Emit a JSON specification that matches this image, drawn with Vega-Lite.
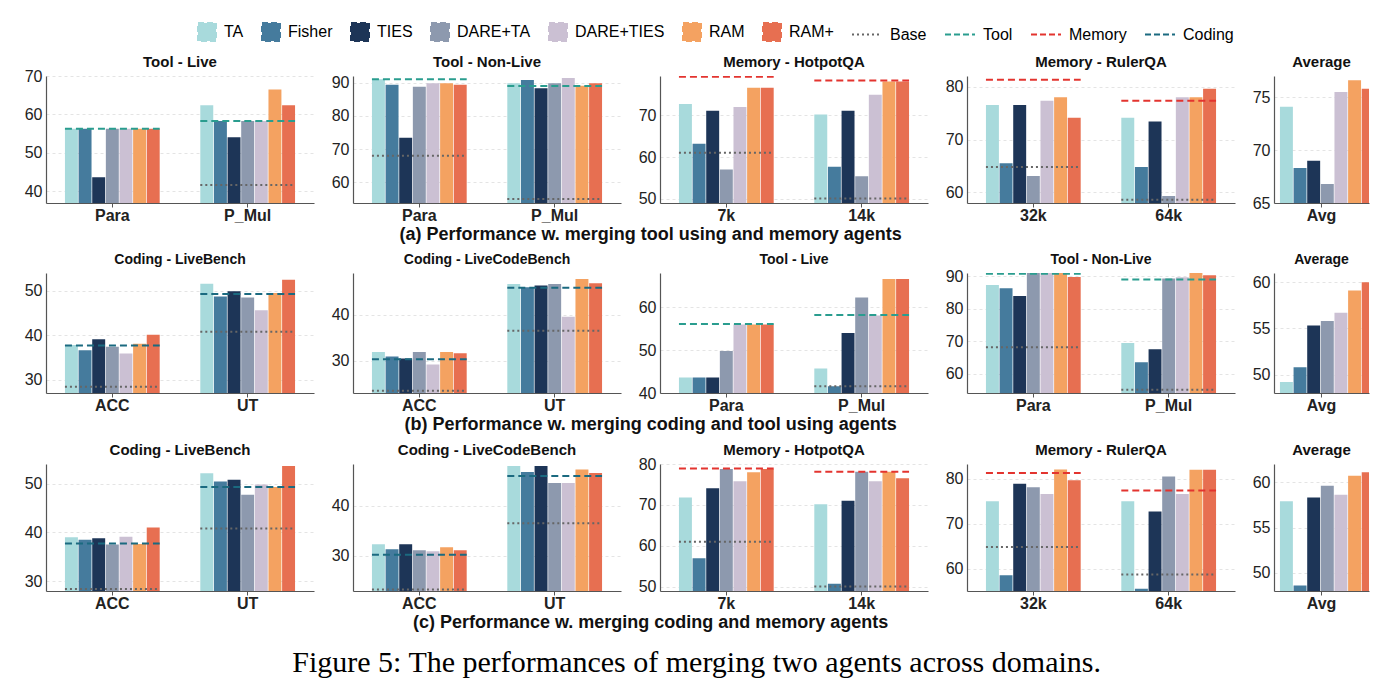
{
"$schema":"https://vega.github.io/schema/vega-lite/v6.json",
"padding":{"left":24,"top":22,"right":5,"bottom":5},
"background":"white",
"datasets":{
"bars":[
{"p":"a1","c":"Para","m":"TA","v":56.3},{"p":"a1","c":"Para","m":"Fisher","v":56.3},{"p":"a1","c":"Para","m":"TIES","v":43.7},{"p":"a1","c":"Para","m":"DARE+TA","v":56.3},{"p":"a1","c":"Para","m":"DARE+TIES","v":56.3},{"p":"a1","c":"Para","m":"RAM","v":56.3},{"p":"a1","c":"Para","m":"RAM+","v":56.3},
{"p":"a1","c":"P_Mul","m":"TA","v":62.4},{"p":"a1","c":"P_Mul","m":"Fisher","v":58.3},{"p":"a1","c":"P_Mul","m":"TIES","v":54.1},{"p":"a1","c":"P_Mul","m":"DARE+TA","v":58.3},{"p":"a1","c":"P_Mul","m":"DARE+TIES","v":58.3},{"p":"a1","c":"P_Mul","m":"RAM","v":66.5},{"p":"a1","c":"P_Mul","m":"RAM+","v":62.4},
{"p":"a2","c":"Para","m":"TA","v":91.0},{"p":"a2","c":"Para","m":"Fisher","v":89.4},{"p":"a2","c":"Para","m":"TIES","v":73.4},{"p":"a2","c":"Para","m":"DARE+TA","v":88.8},{"p":"a2","c":"Para","m":"DARE+TIES","v":89.8},{"p":"a2","c":"Para","m":"RAM","v":89.8},{"p":"a2","c":"Para","m":"RAM+","v":89.4},
{"p":"a2","c":"P_Mul","m":"TA","v":89.8},{"p":"a2","c":"P_Mul","m":"Fisher","v":90.8},{"p":"a2","c":"P_Mul","m":"TIES","v":88.3},{"p":"a2","c":"P_Mul","m":"DARE+TA","v":89.8},{"p":"a2","c":"P_Mul","m":"DARE+TIES","v":91.4},{"p":"a2","c":"P_Mul","m":"RAM","v":89.1},{"p":"a2","c":"P_Mul","m":"RAM+","v":89.8},
{"p":"a3","c":"7k","m":"TA","v":72.7},{"p":"a3","c":"7k","m":"Fisher","v":63.2},{"p":"a3","c":"7k","m":"TIES","v":71.1},{"p":"a3","c":"7k","m":"DARE+TA","v":57.0},{"p":"a3","c":"7k","m":"DARE+TIES","v":72.0},{"p":"a3","c":"7k","m":"RAM","v":76.6},{"p":"a3","c":"7k","m":"RAM+","v":76.6},
{"p":"a3","c":"14k","m":"TA","v":70.2},{"p":"a3","c":"14k","m":"Fisher","v":57.7},{"p":"a3","c":"14k","m":"TIES","v":71.1},{"p":"a3","c":"14k","m":"DARE+TA","v":55.4},{"p":"a3","c":"14k","m":"DARE+TIES","v":74.9},{"p":"a3","c":"14k","m":"RAM","v":78.1},{"p":"a3","c":"14k","m":"RAM+","v":78.1},
{"p":"a4","c":"32k","m":"TA","v":76.5},{"p":"a4","c":"32k","m":"Fisher","v":65.5},{"p":"a4","c":"32k","m":"TIES","v":76.5},{"p":"a4","c":"32k","m":"DARE+TA","v":63.1},{"p":"a4","c":"32k","m":"DARE+TIES","v":77.3},{"p":"a4","c":"32k","m":"RAM","v":78.0},{"p":"a4","c":"32k","m":"RAM+","v":74.1},
{"p":"a4","c":"64k","m":"TA","v":74.1},{"p":"a4","c":"64k","m":"Fisher","v":64.8},{"p":"a4","c":"64k","m":"TIES","v":73.4},{"p":"a4","c":"64k","m":"DARE+TA","v":59.3},{"p":"a4","c":"64k","m":"DARE+TIES","v":78.0},{"p":"a4","c":"64k","m":"RAM","v":78.0},{"p":"a4","c":"64k","m":"RAM+","v":79.6},
{"p":"a5","c":"Avg","m":"TA","v":74.1},{"p":"a5","c":"Avg","m":"Fisher","v":68.3},{"p":"a5","c":"Avg","m":"TIES","v":69.0},{"p":"a5","c":"Avg","m":"DARE+TA","v":66.8},{"p":"a5","c":"Avg","m":"DARE+TIES","v":75.5},{"p":"a5","c":"Avg","m":"RAM","v":76.6},{"p":"a5","c":"Avg","m":"RAM+","v":75.8},
{"p":"b1","c":"ACC","m":"TA","v":37.8},{"p":"b1","c":"ACC","m":"Fisher","v":36.6},{"p":"b1","c":"ACC","m":"TIES","v":39.1},{"p":"b1","c":"ACC","m":"DARE+TA","v":37.4},{"p":"b1","c":"ACC","m":"DARE+TIES","v":35.9},{"p":"b1","c":"ACC","m":"RAM","v":38.1},{"p":"b1","c":"ACC","m":"RAM+","v":40.1},
{"p":"b1","c":"UT","m":"TA","v":51.6},{"p":"b1","c":"UT","m":"Fisher","v":48.7},{"p":"b1","c":"UT","m":"TIES","v":49.9},{"p":"b1","c":"UT","m":"DARE+TA","v":48.5},{"p":"b1","c":"UT","m":"DARE+TIES","v":45.6},{"p":"b1","c":"UT","m":"RAM","v":49.5},{"p":"b1","c":"UT","m":"RAM+","v":52.5},
{"p":"b2","c":"ACC","m":"TA","v":31.9},{"p":"b2","c":"ACC","m":"Fisher","v":30.9},{"p":"b2","c":"ACC","m":"TIES","v":30.5},{"p":"b2","c":"ACC","m":"DARE+TA","v":31.9},{"p":"b2","c":"ACC","m":"DARE+TIES","v":29.2},{"p":"b2","c":"ACC","m":"RAM","v":31.9},{"p":"b2","c":"ACC","m":"RAM+","v":31.6},
{"p":"b2","c":"UT","m":"TA","v":46.6},{"p":"b2","c":"UT","m":"Fisher","v":45.9},{"p":"b2","c":"UT","m":"TIES","v":46.3},{"p":"b2","c":"UT","m":"DARE+TA","v":46.6},{"p":"b2","c":"UT","m":"DARE+TIES","v":39.5},{"p":"b2","c":"UT","m":"RAM","v":47.7},{"p":"b2","c":"UT","m":"RAM+","v":46.8},
{"p":"b3","c":"Para","m":"TA","v":43.6},{"p":"b3","c":"Para","m":"Fisher","v":43.6},{"p":"b3","c":"Para","m":"TIES","v":43.6},{"p":"b3","c":"Para","m":"DARE+TA","v":49.8},{"p":"b3","c":"Para","m":"DARE+TIES","v":56.0},{"p":"b3","c":"Para","m":"RAM","v":56.0},{"p":"b3","c":"Para","m":"RAM+","v":56.0},
{"p":"b3","c":"P_Mul","m":"TA","v":45.7},{"p":"b3","c":"P_Mul","m":"Fisher","v":41.6},{"p":"b3","c":"P_Mul","m":"TIES","v":54.0},{"p":"b3","c":"P_Mul","m":"DARE+TA","v":62.3},{"p":"b3","c":"P_Mul","m":"DARE+TIES","v":58.1},{"p":"b3","c":"P_Mul","m":"RAM","v":66.6},{"p":"b3","c":"P_Mul","m":"RAM+","v":66.6},
{"p":"b4","c":"Para","m":"TA","v":87.3},{"p":"b4","c":"Para","m":"Fisher","v":86.3},{"p":"b4","c":"Para","m":"TIES","v":83.9},{"p":"b4","c":"Para","m":"DARE+TA","v":91.5},{"p":"b4","c":"Para","m":"DARE+TIES","v":91.5},{"p":"b4","c":"Para","m":"RAM","v":91.5},{"p":"b4","c":"Para","m":"RAM+","v":89.8},
{"p":"b4","c":"P_Mul","m":"TA","v":69.4},{"p":"b4","c":"P_Mul","m":"Fisher","v":63.5},{"p":"b4","c":"P_Mul","m":"TIES","v":67.5},{"p":"b4","c":"P_Mul","m":"DARE+TA","v":89.3},{"p":"b4","c":"P_Mul","m":"DARE+TIES","v":89.7},{"p":"b4","c":"P_Mul","m":"RAM","v":91.5},{"p":"b4","c":"P_Mul","m":"RAM+","v":90.3},
{"p":"b5","c":"Avg","m":"TA","v":49.2},{"p":"b5","c":"Avg","m":"Fisher","v":50.8},{"p":"b5","c":"Avg","m":"TIES","v":55.3},{"p":"b5","c":"Avg","m":"DARE+TA","v":55.8},{"p":"b5","c":"Avg","m":"DARE+TIES","v":56.7},{"p":"b5","c":"Avg","m":"RAM","v":59.1},{"p":"b5","c":"Avg","m":"RAM+","v":60.0},
{"p":"c1","c":"ACC","m":"TA","v":39.0},{"p":"c1","c":"ACC","m":"Fisher","v":38.5},{"p":"c1","c":"ACC","m":"TIES","v":38.8},{"p":"c1","c":"ACC","m":"DARE+TA","v":37.5},{"p":"c1","c":"ACC","m":"DARE+TIES","v":39.1},{"p":"c1","c":"ACC","m":"RAM","v":37.6},{"p":"c1","c":"ACC","m":"RAM+","v":41.0},
{"p":"c1","c":"UT","m":"TA","v":52.1},{"p":"c1","c":"UT","m":"Fisher","v":50.4},{"p":"c1","c":"UT","m":"TIES","v":50.8},{"p":"c1","c":"UT","m":"DARE+TA","v":47.7},{"p":"c1","c":"UT","m":"DARE+TIES","v":49.8},{"p":"c1","c":"UT","m":"RAM","v":49.3},{"p":"c1","c":"UT","m":"RAM+","v":53.6},
{"p":"c2","c":"ACC","m":"TA","v":32.3},{"p":"c2","c":"ACC","m":"Fisher","v":31.3},{"p":"c2","c":"ACC","m":"TIES","v":32.3},{"p":"c2","c":"ACC","m":"DARE+TA","v":31.1},{"p":"c2","c":"ACC","m":"DARE+TIES","v":30.9},{"p":"c2","c":"ACC","m":"RAM","v":31.7},{"p":"c2","c":"ACC","m":"RAM+","v":31.1},
{"p":"c2","c":"UT","m":"TA","v":47.9},{"p":"c2","c":"UT","m":"Fisher","v":46.7},{"p":"c2","c":"UT","m":"TIES","v":47.9},{"p":"c2","c":"UT","m":"DARE+TA","v":44.5},{"p":"c2","c":"UT","m":"DARE+TIES","v":44.5},{"p":"c2","c":"UT","m":"RAM","v":47.2},{"p":"c2","c":"UT","m":"RAM+","v":46.5},
{"p":"c3","c":"7k","m":"TA","v":71.8},{"p":"c3","c":"7k","m":"Fisher","v":57.0},{"p":"c3","c":"7k","m":"TIES","v":74.1},{"p":"c3","c":"7k","m":"DARE+TA","v":78.8},{"p":"c3","c":"7k","m":"DARE+TIES","v":75.8},{"p":"c3","c":"7k","m":"RAM","v":78.0},{"p":"c3","c":"7k","m":"RAM+","v":78.8},
{"p":"c3","c":"14k","m":"TA","v":70.2},{"p":"c3","c":"14k","m":"Fisher","v":50.8},{"p":"c3","c":"14k","m":"TIES","v":71.0},{"p":"c3","c":"14k","m":"DARE+TA","v":78.1},{"p":"c3","c":"14k","m":"DARE+TIES","v":75.8},{"p":"c3","c":"14k","m":"RAM","v":78.1},{"p":"c3","c":"14k","m":"RAM+","v":76.5},
{"p":"c4","c":"32k","m":"TA","v":75.0},{"p":"c4","c":"32k","m":"Fisher","v":58.5},{"p":"c4","c":"32k","m":"TIES","v":78.9},{"p":"c4","c":"32k","m":"DARE+TA","v":78.1},{"p":"c4","c":"32k","m":"DARE+TIES","v":76.6},{"p":"c4","c":"32k","m":"RAM","v":82.1},{"p":"c4","c":"32k","m":"RAM+","v":79.7},
{"p":"c4","c":"64k","m":"TA","v":75.0},{"p":"c4","c":"64k","m":"Fisher","v":55.5},{"p":"c4","c":"64k","m":"TIES","v":72.7},{"p":"c4","c":"64k","m":"DARE+TA","v":80.5},{"p":"c4","c":"64k","m":"DARE+TIES","v":76.6},{"p":"c4","c":"64k","m":"RAM","v":82.0},{"p":"c4","c":"64k","m":"RAM+","v":82.0},
{"p":"c5","c":"Avg","m":"TA","v":57.9},{"p":"c5","c":"Avg","m":"Fisher","v":48.6},{"p":"c5","c":"Avg","m":"TIES","v":58.3},{"p":"c5","c":"Avg","m":"DARE+TA","v":59.6},{"p":"c5","c":"Avg","m":"DARE+TIES","v":58.6},{"p":"c5","c":"Avg","m":"RAM","v":60.7},{"p":"c5","c":"Avg","m":"RAM+","v":61.1}
],
"lines":[
{"p":"a1","c":"Para","l":"Tool","v":56.3},{"p":"a1","c":"P_Mul","l":"Tool","v":58.3},{"p":"a1","c":"P_Mul","l":"Base","v":41.7},
{"p":"a2","c":"Para","l":"Tool","v":91.0},{"p":"a2","c":"Para","l":"Base","v":68.0},{"p":"a2","c":"P_Mul","l":"Tool","v":89.0},{"p":"a2","c":"P_Mul","l":"Base","v":55.0},
{"p":"a3","c":"7k","l":"Memory","v":79.2},{"p":"a3","c":"7k","l":"Base","v":61.0},{"p":"a3","c":"14k","l":"Memory","v":78.3},{"p":"a3","c":"14k","l":"Base","v":50.1},
{"p":"a4","c":"32k","l":"Memory","v":81.3},{"p":"a4","c":"32k","l":"Base","v":64.8},{"p":"a4","c":"64k","l":"Memory","v":77.3},{"p":"a4","c":"64k","l":"Base","v":58.6},
{"p":"b1","c":"ACC","l":"Coding","v":37.7},{"p":"b1","c":"ACC","l":"Base","v":28.4},{"p":"b1","c":"UT","l":"Coding","v":49.3},{"p":"b1","c":"UT","l":"Base","v":40.8},
{"p":"b2","c":"ACC","l":"Coding","v":30.3},{"p":"b2","c":"ACC","l":"Base","v":23.5},{"p":"b2","c":"UT","l":"Coding","v":45.8},{"p":"b2","c":"UT","l":"Base","v":36.5},
{"p":"b3","c":"Para","l":"Tool","v":56.1},{"p":"b3","c":"P_Mul","l":"Tool","v":58.2},{"p":"b3","c":"P_Mul","l":"Base","v":41.6},
{"p":"b4","c":"Para","l":"Tool","v":90.8},{"p":"b4","c":"Para","l":"Base","v":68.1},{"p":"b4","c":"P_Mul","l":"Tool","v":89.0},{"p":"b4","c":"P_Mul","l":"Base","v":55.0},
{"p":"c1","c":"ACC","l":"Coding","v":37.7},{"p":"c1","c":"ACC","l":"Base","v":28.4},{"p":"c1","c":"UT","l":"Coding","v":49.3},{"p":"c1","c":"UT","l":"Base","v":40.8},
{"p":"c2","c":"ACC","l":"Coding","v":30.2},{"p":"c2","c":"ACC","l":"Base","v":23.3},{"p":"c2","c":"UT","l":"Coding","v":45.9},{"p":"c2","c":"UT","l":"Base","v":36.5},
{"p":"c3","c":"7k","l":"Memory","v":78.9},{"p":"c3","c":"7k","l":"Base","v":61.0},{"p":"c3","c":"14k","l":"Memory","v":78.1},{"p":"c3","c":"14k","l":"Base","v":50.1},
{"p":"c4","c":"32k","l":"Memory","v":81.3},{"p":"c4","c":"32k","l":"Base","v":64.8},{"p":"c4","c":"64k","l":"Memory","v":77.4},{"p":"c4","c":"64k","l":"Base","v":58.7}
]
},
"title":{"text":"Figure 5: The performances of merging two agents across domains.","orient":"bottom","anchor":"middle","font":"Liberation Serif","fontSize":30,"fontWeight":"normal","offset":16,"color":"#000"},
"resolve":{"scale":{"color":"shared"},"legend":{"color":"shared"}},
"spacing":9,
"vconcat":[
{"title":{"text":"(a) Performance w. merging tool using and memory agents","orient":"bottom","anchor":"middle","fontSize":18,"offset":3,"dx":-46},
"spacing":17,
"resolve":{"scale":{"color":"shared"},"legend":{"color":"shared"}},
"hconcat":[
{"width":268,"height":127,"title":{"text":"Tool - Live","offset":-2},"layer":[
{"data":{"name":"bars"},"transform":[{"filter":"datum.p=='a1'"}],"mark":{"type":"bar","clip":true},"encoding":{"x":{"field":"c","type":"nominal","sort":null,"title":null,"scale":{"paddingInner":0.3,"paddingOuter":0.14}},"xOffset":{"field":"m","type":"nominal","sort":["TA","Fisher","TIES","DARE+TA","DARE+TIES","RAM","RAM+"],"scale":{"paddingInner":0.05}},"y":{"field":"v","type":"quantitative","title":null,"scale":{"domain":[37,70],"zero":false,"nice":false},"axis":{"values":[40,50,60,70]}},"color":{"field":"m","type":"nominal","scale":{"domain":["TA","Fisher","TIES","DARE+TA","DARE+TIES","RAM","RAM+","Base","Tool","Memory","Coding"],"range":["#a8dadc","#457b9d","#1d3557","#8d99ae","#cbc0d3","#f4a261","#e76f51","#666666","#2a9d8f","#e3342f","#1b6a80"]},
"legend":{"title":null,"orient":"none","legendX":152,"legendY":-54,"direction":"horizontal","columns":11,"labelFontSize":16,"labelFont":"Liberation Sans","columnPadding":14,
"encode":{
"symbols":{"update":{
"shape":{"signal":"indexof(['Base','Tool','Memory','Coding'], datum.value) >= 0 ? 'stroke' : 'square'"},
"fill":{"signal":"indexof(['Base','Tool','Memory','Coding'], datum.value) >= 0 ? 'transparent' : scale('color', datum.value)"},
"stroke":{"signal":"indexof(['Base','Tool','Memory','Coding'], datum.value) >= 0 ? scale('color', datum.value) : 'transparent'"},
"strokeDash":{"signal":"datum.value == 'Base' ? [2,3] : [6,3]"},
"strokeWidth":{"value":2},
"opacity":{"value":1},
"x":{"signal":"indexof(['Base','Tool','Memory','Coding'], datum.value) >= 0 ? 15 : 9"},
"size":{"signal":"indexof(['Base','Tool','Memory','Coding'], datum.value) >= 0 ? 900 : 324"}}},
"labels":{"update":{
"x":{"signal":"indexof(['Base','Tool','Memory','Coding'], datum.value) >= 0 ? 38 : 26"}}}}}}}},
{"data":{"name":"lines"},"transform":[{"filter":"datum.p=='a1'"}],"mark":{"type":"rule","clip":true,"strokeWidth":2},"encoding":{"x":{"field":"c","type":"nominal","sort":null,"title":null,"bandPosition":0},"x2":{"field":"c","bandPosition":1},"y":{"field":"v","type":"quantitative","title":null},"color":{"field":"l","type":"nominal","scale":{"domain":["TA","Fisher","TIES","DARE+TA","DARE+TIES","RAM","RAM+","Base","Tool","Memory","Coding"],"range":["#a8dadc","#457b9d","#1d3557","#8d99ae","#cbc0d3","#f4a261","#e76f51","#666666","#2a9d8f","#e3342f","#1b6a80"]}},"strokeDash":{"field":"l","type":"nominal","scale":{"domain":["Base","Tool","Memory","Coding"],"range":[[2,3],[7,4],[7,4],[7,4]]},"legend":null}}}
]},
{"width":268,"height":127,"title":{"text":"Tool - Non-Live","offset":4.6},"layer":[
{"data":{"name":"bars"},"transform":[{"filter":"datum.p=='a2'"}],"mark":{"type":"bar","clip":true},"encoding":{"x":{"field":"c","type":"nominal","sort":null,"title":null,"scale":{"paddingInner":0.3,"paddingOuter":0.14}},"xOffset":{"field":"m","type":"nominal","sort":["TA","Fisher","TIES","DARE+TA","DARE+TIES","RAM","RAM+"],"scale":{"paddingInner":0.05}},"y":{"field":"v","type":"quantitative","title":null,"scale":{"domain":[53.8,92],"zero":false,"nice":false},"axis":{"values":[60,70,80,90]}},"color":{"field":"m","type":"nominal","scale":{"domain":["TA","Fisher","TIES","DARE+TA","DARE+TIES","RAM","RAM+","Base","Tool","Memory","Coding"],"range":["#a8dadc","#457b9d","#1d3557","#8d99ae","#cbc0d3","#f4a261","#e76f51","#666666","#2a9d8f","#e3342f","#1b6a80"]}}}},
{"data":{"name":"lines"},"transform":[{"filter":"datum.p=='a2'"}],"mark":{"type":"rule","clip":true,"strokeWidth":2},"encoding":{"x":{"field":"c","type":"nominal","sort":null,"title":null,"bandPosition":0},"x2":{"field":"c","bandPosition":1},"y":{"field":"v","type":"quantitative","title":null},"color":{"field":"l","type":"nominal","scale":{"domain":["TA","Fisher","TIES","DARE+TA","DARE+TIES","RAM","RAM+","Base","Tool","Memory","Coding"],"range":["#a8dadc","#457b9d","#1d3557","#8d99ae","#cbc0d3","#f4a261","#e76f51","#666666","#2a9d8f","#e3342f","#1b6a80"]}},"strokeDash":{"field":"l","type":"nominal","scale":{"domain":["Base","Tool","Memory","Coding"],"range":[[2,3],[7,4],[7,4],[7,4]]},"legend":null}}}
]},
{"width":268,"height":127,"title":"Memory - HotpotQA","layer":[
{"data":{"name":"bars"},"transform":[{"filter":"datum.p=='a3'"}],"mark":{"type":"bar","clip":true},"encoding":{"x":{"field":"c","type":"nominal","sort":null,"title":null,"scale":{"paddingInner":0.3,"paddingOuter":0.14}},"xOffset":{"field":"m","type":"nominal","sort":["TA","Fisher","TIES","DARE+TA","DARE+TIES","RAM","RAM+"],"scale":{"paddingInner":0.05}},"y":{"field":"v","type":"quantitative","title":null,"scale":{"domain":[49,79.4],"zero":false,"nice":false},"axis":{"values":[50,60,70]}},"color":{"field":"m","type":"nominal","scale":{"domain":["TA","Fisher","TIES","DARE+TA","DARE+TIES","RAM","RAM+","Base","Tool","Memory","Coding"],"range":["#a8dadc","#457b9d","#1d3557","#8d99ae","#cbc0d3","#f4a261","#e76f51","#666666","#2a9d8f","#e3342f","#1b6a80"]}}}},
{"data":{"name":"lines"},"transform":[{"filter":"datum.p=='a3'"}],"mark":{"type":"rule","clip":true,"strokeWidth":2},"encoding":{"x":{"field":"c","type":"nominal","sort":null,"title":null,"bandPosition":0},"x2":{"field":"c","bandPosition":1},"y":{"field":"v","type":"quantitative","title":null},"color":{"field":"l","type":"nominal","scale":{"domain":["TA","Fisher","TIES","DARE+TA","DARE+TIES","RAM","RAM+","Base","Tool","Memory","Coding"],"range":["#a8dadc","#457b9d","#1d3557","#8d99ae","#cbc0d3","#f4a261","#e76f51","#666666","#2a9d8f","#e3342f","#1b6a80"]}},"strokeDash":{"field":"l","type":"nominal","scale":{"domain":["Base","Tool","Memory","Coding"],"range":[[2,3],[7,4],[7,4],[7,4]]},"legend":null}}}
]},
{"width":268,"height":127,"title":"Memory - RulerQA","layer":[
{"data":{"name":"bars"},"transform":[{"filter":"datum.p=='a4'"}],"mark":{"type":"bar","clip":true},"encoding":{"x":{"field":"c","type":"nominal","sort":null,"title":null,"scale":{"paddingInner":0.3,"paddingOuter":0.14}},"xOffset":{"field":"m","type":"nominal","sort":["TA","Fisher","TIES","DARE+TA","DARE+TIES","RAM","RAM+"],"scale":{"paddingInner":0.05}},"y":{"field":"v","type":"quantitative","title":null,"scale":{"domain":[58,82],"zero":false,"nice":false},"axis":{"values":[60,70,80]}},"color":{"field":"m","type":"nominal","scale":{"domain":["TA","Fisher","TIES","DARE+TA","DARE+TIES","RAM","RAM+","Base","Tool","Memory","Coding"],"range":["#a8dadc","#457b9d","#1d3557","#8d99ae","#cbc0d3","#f4a261","#e76f51","#666666","#2a9d8f","#e3342f","#1b6a80"]}}}},
{"data":{"name":"lines"},"transform":[{"filter":"datum.p=='a4'"}],"mark":{"type":"rule","clip":true,"strokeWidth":2},"encoding":{"x":{"field":"c","type":"nominal","sort":null,"title":null,"bandPosition":0},"x2":{"field":"c","bandPosition":1},"y":{"field":"v","type":"quantitative","title":null},"color":{"field":"l","type":"nominal","scale":{"domain":["TA","Fisher","TIES","DARE+TA","DARE+TIES","RAM","RAM+","Base","Tool","Memory","Coding"],"range":["#a8dadc","#457b9d","#1d3557","#8d99ae","#cbc0d3","#f4a261","#e76f51","#666666","#2a9d8f","#e3342f","#1b6a80"]}},"strokeDash":{"field":"l","type":"nominal","scale":{"domain":["Base","Tool","Memory","Coding"],"range":[[2,3],[7,4],[7,4],[7,4]]},"legend":null}}}
]},
{"width":95,"height":127,"title":"Average","layer":[
{"data":{"name":"bars"},"transform":[{"filter":"datum.p=='a5'"}],"mark":{"type":"bar","clip":true},"encoding":{"x":{"field":"c","type":"nominal","sort":null,"title":null,"scale":{"paddingInner":0.3,"paddingOuter":0.05}},"xOffset":{"field":"m","type":"nominal","sort":["TA","Fisher","TIES","DARE+TA","DARE+TIES","RAM","RAM+"],"scale":{"paddingInner":0.05}},"y":{"field":"v","type":"quantitative","title":null,"scale":{"domain":[65,77],"zero":false,"nice":false},"axis":{"values":[65,70,75]}},"color":{"field":"m","type":"nominal","scale":{"domain":["TA","Fisher","TIES","DARE+TA","DARE+TIES","RAM","RAM+","Base","Tool","Memory","Coding"],"range":["#a8dadc","#457b9d","#1d3557","#8d99ae","#cbc0d3","#f4a261","#e76f51","#666666","#2a9d8f","#e3342f","#1b6a80"]}}}}
]}
]},
{"title":{"text":"(b) Performance w. merging coding and tool using agents","orient":"bottom","anchor":"middle","fontSize":18,"offset":3,"dx":-46},
"spacing":17,
"resolve":{"scale":{"color":"shared"},"legend":{"color":"shared"}},
"hconcat":[
{"width":268,"height":120,"title":{"text":"Coding - LiveBench","fontSize":14},"layer":[
{"data":{"name":"bars"},"transform":[{"filter":"datum.p=='b1'"}],"mark":{"type":"bar","clip":true},"encoding":{"x":{"field":"c","type":"nominal","sort":null,"title":null,"scale":{"paddingInner":0.3,"paddingOuter":0.14}},"xOffset":{"field":"m","type":"nominal","sort":["TA","Fisher","TIES","DARE+TA","DARE+TIES","RAM","RAM+"],"scale":{"paddingInner":0.05}},"y":{"field":"v","type":"quantitative","title":null,"scale":{"domain":[27,54],"zero":false,"nice":false},"axis":{"values":[30,40,50]}},"color":{"field":"m","type":"nominal","scale":{"domain":["TA","Fisher","TIES","DARE+TA","DARE+TIES","RAM","RAM+","Base","Tool","Memory","Coding"],"range":["#a8dadc","#457b9d","#1d3557","#8d99ae","#cbc0d3","#f4a261","#e76f51","#666666","#2a9d8f","#e3342f","#1b6a80"]}}}},
{"data":{"name":"lines"},"transform":[{"filter":"datum.p=='b1'"}],"mark":{"type":"rule","clip":true,"strokeWidth":2},"encoding":{"x":{"field":"c","type":"nominal","sort":null,"title":null,"bandPosition":0},"x2":{"field":"c","bandPosition":1},"y":{"field":"v","type":"quantitative","title":null},"color":{"field":"l","type":"nominal","scale":{"domain":["TA","Fisher","TIES","DARE+TA","DARE+TIES","RAM","RAM+","Base","Tool","Memory","Coding"],"range":["#a8dadc","#457b9d","#1d3557","#8d99ae","#cbc0d3","#f4a261","#e76f51","#666666","#2a9d8f","#e3342f","#1b6a80"]}},"strokeDash":{"field":"l","type":"nominal","scale":{"domain":["Base","Tool","Memory","Coding"],"range":[[2,3],[7,4],[7,4],[7,4]]},"legend":null}}}
]},
{"width":268,"height":120,"title":{"text":"Coding - LiveCodeBench","fontSize":14},"layer":[
{"data":{"name":"bars"},"transform":[{"filter":"datum.p=='b2'"}],"mark":{"type":"bar","clip":true},"encoding":{"x":{"field":"c","type":"nominal","sort":null,"title":null,"scale":{"paddingInner":0.3,"paddingOuter":0.14}},"xOffset":{"field":"m","type":"nominal","sort":["TA","Fisher","TIES","DARE+TA","DARE+TIES","RAM","RAM+"],"scale":{"paddingInner":0.05}},"y":{"field":"v","type":"quantitative","title":null,"scale":{"domain":[23,49],"zero":false,"nice":false},"axis":{"values":[30,40]}},"color":{"field":"m","type":"nominal","scale":{"domain":["TA","Fisher","TIES","DARE+TA","DARE+TIES","RAM","RAM+","Base","Tool","Memory","Coding"],"range":["#a8dadc","#457b9d","#1d3557","#8d99ae","#cbc0d3","#f4a261","#e76f51","#666666","#2a9d8f","#e3342f","#1b6a80"]}}}},
{"data":{"name":"lines"},"transform":[{"filter":"datum.p=='b2'"}],"mark":{"type":"rule","clip":true,"strokeWidth":2},"encoding":{"x":{"field":"c","type":"nominal","sort":null,"title":null,"bandPosition":0},"x2":{"field":"c","bandPosition":1},"y":{"field":"v","type":"quantitative","title":null},"color":{"field":"l","type":"nominal","scale":{"domain":["TA","Fisher","TIES","DARE+TA","DARE+TIES","RAM","RAM+","Base","Tool","Memory","Coding"],"range":["#a8dadc","#457b9d","#1d3557","#8d99ae","#cbc0d3","#f4a261","#e76f51","#666666","#2a9d8f","#e3342f","#1b6a80"]}},"strokeDash":{"field":"l","type":"nominal","scale":{"domain":["Base","Tool","Memory","Coding"],"range":[[2,3],[7,4],[7,4],[7,4]]},"legend":null}}}
]},
{"width":268,"height":120,"title":{"text":"Tool - Live","fontSize":14},"layer":[
{"data":{"name":"bars"},"transform":[{"filter":"datum.p=='b3'"}],"mark":{"type":"bar","clip":true},"encoding":{"x":{"field":"c","type":"nominal","sort":null,"title":null,"scale":{"paddingInner":0.3,"paddingOuter":0.14}},"xOffset":{"field":"m","type":"nominal","sort":["TA","Fisher","TIES","DARE+TA","DARE+TIES","RAM","RAM+"],"scale":{"paddingInner":0.05}},"y":{"field":"v","type":"quantitative","title":null,"scale":{"domain":[40,68],"zero":false,"nice":false},"axis":{"values":[40,50,60]}},"color":{"field":"m","type":"nominal","scale":{"domain":["TA","Fisher","TIES","DARE+TA","DARE+TIES","RAM","RAM+","Base","Tool","Memory","Coding"],"range":["#a8dadc","#457b9d","#1d3557","#8d99ae","#cbc0d3","#f4a261","#e76f51","#666666","#2a9d8f","#e3342f","#1b6a80"]}}}},
{"data":{"name":"lines"},"transform":[{"filter":"datum.p=='b3'"}],"mark":{"type":"rule","clip":true,"strokeWidth":2},"encoding":{"x":{"field":"c","type":"nominal","sort":null,"title":null,"bandPosition":0},"x2":{"field":"c","bandPosition":1},"y":{"field":"v","type":"quantitative","title":null},"color":{"field":"l","type":"nominal","scale":{"domain":["TA","Fisher","TIES","DARE+TA","DARE+TIES","RAM","RAM+","Base","Tool","Memory","Coding"],"range":["#a8dadc","#457b9d","#1d3557","#8d99ae","#cbc0d3","#f4a261","#e76f51","#666666","#2a9d8f","#e3342f","#1b6a80"]}},"strokeDash":{"field":"l","type":"nominal","scale":{"domain":["Base","Tool","Memory","Coding"],"range":[[2,3],[7,4],[7,4],[7,4]]},"legend":null}}}
]},
{"width":268,"height":120,"title":{"text":"Tool - Non-Live","fontSize":14,"offset":1},"layer":[
{"data":{"name":"bars"},"transform":[{"filter":"datum.p=='b4'"}],"mark":{"type":"bar","clip":true},"encoding":{"x":{"field":"c","type":"nominal","sort":null,"title":null,"scale":{"paddingInner":0.3,"paddingOuter":0.14}},"xOffset":{"field":"m","type":"nominal","sort":["TA","Fisher","TIES","DARE+TA","DARE+TIES","RAM","RAM+"],"scale":{"paddingInner":0.05}},"y":{"field":"v","type":"quantitative","title":null,"scale":{"domain":[54,91],"zero":false,"nice":false},"axis":{"values":[60,70,80,90]}},"color":{"field":"m","type":"nominal","scale":{"domain":["TA","Fisher","TIES","DARE+TA","DARE+TIES","RAM","RAM+","Base","Tool","Memory","Coding"],"range":["#a8dadc","#457b9d","#1d3557","#8d99ae","#cbc0d3","#f4a261","#e76f51","#666666","#2a9d8f","#e3342f","#1b6a80"]}}}},
{"data":{"name":"lines"},"transform":[{"filter":"datum.p=='b4'"}],"mark":{"type":"rule","clip":true,"strokeWidth":2},"encoding":{"x":{"field":"c","type":"nominal","sort":null,"title":null,"bandPosition":0},"x2":{"field":"c","bandPosition":1},"y":{"field":"v","type":"quantitative","title":null},"color":{"field":"l","type":"nominal","scale":{"domain":["TA","Fisher","TIES","DARE+TA","DARE+TIES","RAM","RAM+","Base","Tool","Memory","Coding"],"range":["#a8dadc","#457b9d","#1d3557","#8d99ae","#cbc0d3","#f4a261","#e76f51","#666666","#2a9d8f","#e3342f","#1b6a80"]}},"strokeDash":{"field":"l","type":"nominal","scale":{"domain":["Base","Tool","Memory","Coding"],"range":[[2,3],[7,4],[7,4],[7,4]]},"legend":null}}}
]},
{"width":95,"height":120,"title":{"text":"Average","fontSize":14},"layer":[
{"data":{"name":"bars"},"transform":[{"filter":"datum.p=='b5'"}],"mark":{"type":"bar","clip":true},"encoding":{"x":{"field":"c","type":"nominal","sort":null,"title":null,"scale":{"paddingInner":0.3,"paddingOuter":0.05}},"xOffset":{"field":"m","type":"nominal","sort":["TA","Fisher","TIES","DARE+TA","DARE+TIES","RAM","RAM+"],"scale":{"paddingInner":0.05}},"y":{"field":"v","type":"quantitative","title":null,"scale":{"domain":[48,61],"zero":false,"nice":false},"axis":{"values":[50,55,60]}},"color":{"field":"m","type":"nominal","scale":{"domain":["TA","Fisher","TIES","DARE+TA","DARE+TIES","RAM","RAM+","Base","Tool","Memory","Coding"],"range":["#a8dadc","#457b9d","#1d3557","#8d99ae","#cbc0d3","#f4a261","#e76f51","#666666","#2a9d8f","#e3342f","#1b6a80"]}}}}
]}
]},
{"title":{"text":"(c) Performance w. merging coding and memory agents","orient":"bottom","anchor":"middle","fontSize":18,"offset":3,"dx":-46},
"spacing":17,
"resolve":{"scale":{"color":"shared"},"legend":{"color":"shared"}},
"hconcat":[
{"width":268,"height":127,"title":{"text":"Coding - LiveBench"},"layer":[
{"data":{"name":"bars"},"transform":[{"filter":"datum.p=='c1'"}],"mark":{"type":"bar","clip":true},"encoding":{"x":{"field":"c","type":"nominal","sort":null,"title":null,"scale":{"paddingInner":0.3,"paddingOuter":0.14}},"xOffset":{"field":"m","type":"nominal","sort":["TA","Fisher","TIES","DARE+TA","DARE+TIES","RAM","RAM+"],"scale":{"paddingInner":0.05}},"y":{"field":"v","type":"quantitative","title":null,"scale":{"domain":[28,54],"zero":false,"nice":false},"axis":{"values":[30,40,50]}},"color":{"field":"m","type":"nominal","scale":{"domain":["TA","Fisher","TIES","DARE+TA","DARE+TIES","RAM","RAM+","Base","Tool","Memory","Coding"],"range":["#a8dadc","#457b9d","#1d3557","#8d99ae","#cbc0d3","#f4a261","#e76f51","#666666","#2a9d8f","#e3342f","#1b6a80"]}}}},
{"data":{"name":"lines"},"transform":[{"filter":"datum.p=='c1'"}],"mark":{"type":"rule","clip":true,"strokeWidth":2},"encoding":{"x":{"field":"c","type":"nominal","sort":null,"title":null,"bandPosition":0},"x2":{"field":"c","bandPosition":1},"y":{"field":"v","type":"quantitative","title":null},"color":{"field":"l","type":"nominal","scale":{"domain":["TA","Fisher","TIES","DARE+TA","DARE+TIES","RAM","RAM+","Base","Tool","Memory","Coding"],"range":["#a8dadc","#457b9d","#1d3557","#8d99ae","#cbc0d3","#f4a261","#e76f51","#666666","#2a9d8f","#e3342f","#1b6a80"]}},"strokeDash":{"field":"l","type":"nominal","scale":{"domain":["Base","Tool","Memory","Coding"],"range":[[2,3],[7,4],[7,4],[7,4]]},"legend":null}}}
]},
{"width":268,"height":127,"title":{"text":"Coding - LiveCodeBench"},"layer":[
{"data":{"name":"bars"},"transform":[{"filter":"datum.p=='c2'"}],"mark":{"type":"bar","clip":true},"encoding":{"x":{"field":"c","type":"nominal","sort":null,"title":null,"scale":{"paddingInner":0.3,"paddingOuter":0.14}},"xOffset":{"field":"m","type":"nominal","sort":["TA","Fisher","TIES","DARE+TA","DARE+TIES","RAM","RAM+"],"scale":{"paddingInner":0.05}},"y":{"field":"v","type":"quantitative","title":null,"scale":{"domain":[23,48.3],"zero":false,"nice":false},"axis":{"values":[30,40]}},"color":{"field":"m","type":"nominal","scale":{"domain":["TA","Fisher","TIES","DARE+TA","DARE+TIES","RAM","RAM+","Base","Tool","Memory","Coding"],"range":["#a8dadc","#457b9d","#1d3557","#8d99ae","#cbc0d3","#f4a261","#e76f51","#666666","#2a9d8f","#e3342f","#1b6a80"]}}}},
{"data":{"name":"lines"},"transform":[{"filter":"datum.p=='c2'"}],"mark":{"type":"rule","clip":true,"strokeWidth":2},"encoding":{"x":{"field":"c","type":"nominal","sort":null,"title":null,"bandPosition":0},"x2":{"field":"c","bandPosition":1},"y":{"field":"v","type":"quantitative","title":null},"color":{"field":"l","type":"nominal","scale":{"domain":["TA","Fisher","TIES","DARE+TA","DARE+TIES","RAM","RAM+","Base","Tool","Memory","Coding"],"range":["#a8dadc","#457b9d","#1d3557","#8d99ae","#cbc0d3","#f4a261","#e76f51","#666666","#2a9d8f","#e3342f","#1b6a80"]}},"strokeDash":{"field":"l","type":"nominal","scale":{"domain":["Base","Tool","Memory","Coding"],"range":[[2,3],[7,4],[7,4],[7,4]]},"legend":null}}}
]},
{"width":268,"height":127,"title":{"text":"Memory - HotpotQA","offset":-2},"layer":[
{"data":{"name":"bars"},"transform":[{"filter":"datum.p=='c3'"}],"mark":{"type":"bar","clip":true},"encoding":{"x":{"field":"c","type":"nominal","sort":null,"title":null,"scale":{"paddingInner":0.3,"paddingOuter":0.14}},"xOffset":{"field":"m","type":"nominal","sort":["TA","Fisher","TIES","DARE+TA","DARE+TIES","RAM","RAM+"],"scale":{"paddingInner":0.05}},"y":{"field":"v","type":"quantitative","title":null,"scale":{"domain":[49,80],"zero":false,"nice":false},"axis":{"values":[50,60,70,80]}},"color":{"field":"m","type":"nominal","scale":{"domain":["TA","Fisher","TIES","DARE+TA","DARE+TIES","RAM","RAM+","Base","Tool","Memory","Coding"],"range":["#a8dadc","#457b9d","#1d3557","#8d99ae","#cbc0d3","#f4a261","#e76f51","#666666","#2a9d8f","#e3342f","#1b6a80"]}}}},
{"data":{"name":"lines"},"transform":[{"filter":"datum.p=='c3'"}],"mark":{"type":"rule","clip":true,"strokeWidth":2},"encoding":{"x":{"field":"c","type":"nominal","sort":null,"title":null,"bandPosition":0},"x2":{"field":"c","bandPosition":1},"y":{"field":"v","type":"quantitative","title":null},"color":{"field":"l","type":"nominal","scale":{"domain":["TA","Fisher","TIES","DARE+TA","DARE+TIES","RAM","RAM+","Base","Tool","Memory","Coding"],"range":["#a8dadc","#457b9d","#1d3557","#8d99ae","#cbc0d3","#f4a261","#e76f51","#666666","#2a9d8f","#e3342f","#1b6a80"]}},"strokeDash":{"field":"l","type":"nominal","scale":{"domain":["Base","Tool","Memory","Coding"],"range":[[2,3],[7,4],[7,4],[7,4]]},"legend":null}}}
]},
{"width":268,"height":127,"title":{"text":"Memory - RulerQA"},"layer":[
{"data":{"name":"bars"},"transform":[{"filter":"datum.p=='c4'"}],"mark":{"type":"bar","clip":true},"encoding":{"x":{"field":"c","type":"nominal","sort":null,"title":null,"scale":{"paddingInner":0.3,"paddingOuter":0.14}},"xOffset":{"field":"m","type":"nominal","sort":["TA","Fisher","TIES","DARE+TA","DARE+TIES","RAM","RAM+"],"scale":{"paddingInner":0.05}},"y":{"field":"v","type":"quantitative","title":null,"scale":{"domain":[55,83.3],"zero":false,"nice":false},"axis":{"values":[60,70,80]}},"color":{"field":"m","type":"nominal","scale":{"domain":["TA","Fisher","TIES","DARE+TA","DARE+TIES","RAM","RAM+","Base","Tool","Memory","Coding"],"range":["#a8dadc","#457b9d","#1d3557","#8d99ae","#cbc0d3","#f4a261","#e76f51","#666666","#2a9d8f","#e3342f","#1b6a80"]}}}},
{"data":{"name":"lines"},"transform":[{"filter":"datum.p=='c4'"}],"mark":{"type":"rule","clip":true,"strokeWidth":2},"encoding":{"x":{"field":"c","type":"nominal","sort":null,"title":null,"bandPosition":0},"x2":{"field":"c","bandPosition":1},"y":{"field":"v","type":"quantitative","title":null},"color":{"field":"l","type":"nominal","scale":{"domain":["TA","Fisher","TIES","DARE+TA","DARE+TIES","RAM","RAM+","Base","Tool","Memory","Coding"],"range":["#a8dadc","#457b9d","#1d3557","#8d99ae","#cbc0d3","#f4a261","#e76f51","#666666","#2a9d8f","#e3342f","#1b6a80"]}},"strokeDash":{"field":"l","type":"nominal","scale":{"domain":["Base","Tool","Memory","Coding"],"range":[[2,3],[7,4],[7,4],[7,4]]},"legend":null}}}
]},
{"width":95,"height":127,"title":{"text":"Average"},"layer":[
{"data":{"name":"bars"},"transform":[{"filter":"datum.p=='c5'"}],"mark":{"type":"bar","clip":true},"encoding":{"x":{"field":"c","type":"nominal","sort":null,"title":null,"scale":{"paddingInner":0.3,"paddingOuter":0.05}},"xOffset":{"field":"m","type":"nominal","sort":["TA","Fisher","TIES","DARE+TA","DARE+TIES","RAM","RAM+"],"scale":{"paddingInner":0.05}},"y":{"field":"v","type":"quantitative","title":null,"scale":{"domain":[48,62],"zero":false,"nice":false},"axis":{"values":[50,55,60]}},"color":{"field":"m","type":"nominal","scale":{"domain":["TA","Fisher","TIES","DARE+TA","DARE+TIES","RAM","RAM+","Base","Tool","Memory","Coding"],"range":["#a8dadc","#457b9d","#1d3557","#8d99ae","#cbc0d3","#f4a261","#e76f51","#666666","#2a9d8f","#e3342f","#1b6a80"]}}}}
]}
]}
],
"config":{
"font":"Liberation Sans",
"view":{"stroke":null},
"title":{"font":"Liberation Sans","fontSize":15,"fontWeight":"bold","color":"#111","offset":6},
"axis":{"domainColor":"#555","domainWidth":1.2,"labelFont":"Liberation Sans","labelColor":"#222","gridColor":"#dddddd","gridDash":[3,3],"gridWidth":0.8,"tickColor":"#555"},
"axisX":{"grid":false,"labelFontWeight":"bold","labelFontSize":16,"labelAngle":0,"tickSize":4,"labelPadding":0},
"axisY":{"grid":true,"ticks":false,"labelFontSize":16,"labelPadding":4,"labelOverlap":false,"tickCount":12},
"legend":{"labelFont":"Liberation Sans"}
}
}
